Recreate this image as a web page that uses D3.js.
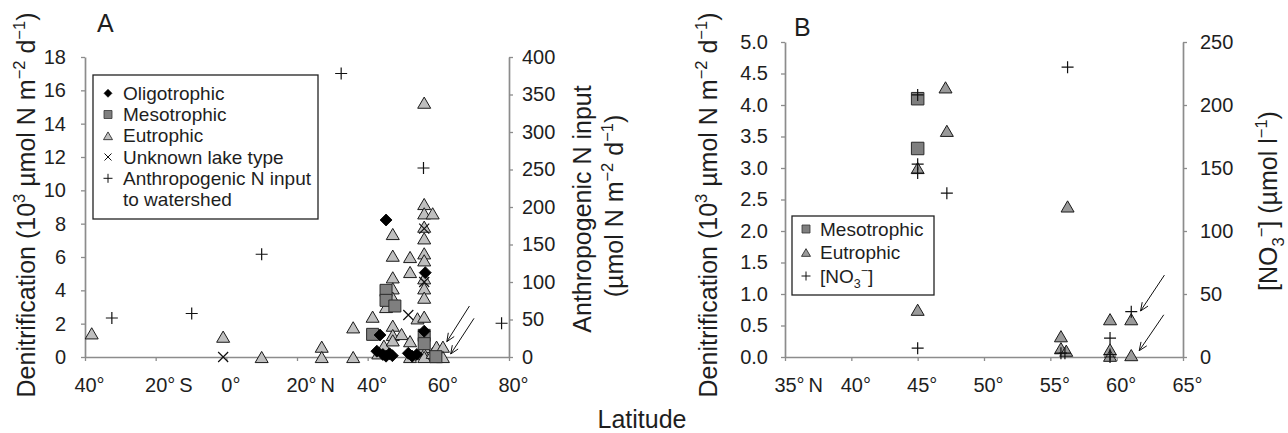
<!DOCTYPE html>
<html><head><meta charset="utf-8">
<script src="https://cdn.jsdelivr.net/npm/d3@7"></script>
<style>
body{margin:0;background:#fff;}
svg{display:block;}
</style></head><body>
<svg id="c" width="1288" height="433"></svg>
<script>
// ---------- Panel A data ----------
const oligoLatA = [45.2, 56.3, 43.5, 56.0, 42.6, 44.3, 45.2, 46.2, 47.0, 51.5, 53.9, 52.6];
const oligoValA = [8.22, 5.06, 1.32, 1.55, 0.35, 0.15, 0.05, 0.2, 0.08, 0.22, 0.15, 0.05];
const mesoLatA = [41.4, 45.2, 45.2, 47.7, 56.0, 56.0, 59.3];
const mesoValA = [1.36, 4.0, 3.4, 3.06, 1.3, 0.8, 0.02];
const eutroLatA = [-38.1, -0.9, 10.0, 27.0, 27.0, 35.9, 35.9, 41.4, 43.0, 44.6, 45.2,
  47.1, 47.1, 47.1, 47.1, 47.1, 47.1, 47.1, 47.1, 49.6, 52.0, 52.0, 52.0, 52.0, 54.1,
  56.0, 56.0, 56.0, 56.0, 56.0, 56.0, 56.0, 56.0, 56.0, 56.0, 56.0, 56.0, 56.0, 56.0,
  58.4, 58.4, 59.5, 59.5, 61.3, 61.3];
const eutroValA = [1.42, 1.22, 0, 0.62, 0, 1.78, 0, 2.42, 0.22, 0.68, 3.0,
  7.38, 6.08, 4.78, 4.12, 3.56, 1.88, 1.32, 1.0, 1.38, 6.0, 5.1, 0.95, 0, 2.32,
  15.26, 9.18, 8.62, 7.82, 7.12, 6.22, 5.8, 4.72, 4.12, 3.56, 2.42, 0.6, 0.2, 0,
  8.62, 0.25, 0.62, 0, 0.62, 0];
const unknownLatA = [-0.9, 51.5, 56.0, 56.0];
const unknownValA = [0, 2.52, 7.7, 4.5];
const anthroLatA = [-32.4, -9.8, 10.0, 32.5, 55.8, 77.9];
const anthroValA = [52, 58, 137, 378, 252, 45];
const xTicksA = [-40, -20, 0, 20, 40, 60, 80];
const xTickLabelsA = ["40°", "20°\u2009S", "0°", "20°\u2009N", "40°", "60°", "80°"];
const yTicksA = [0, 2, 4, 6, 8, 10, 12, 14, 16, 18];
const y2TicksA = [0, 50, 100, 150, 200, 250, 300, 350, 400];
const arrowsA = [[68.8, 3.06, 62.4, 0.92], [70.1, 2.32, 63.5, 0.18]];

// ---------- Panel B data ----------
const mesoLatB = [45, 45];
const mesoValB = [4.1, 3.31];
const eutroLatB = [47.1, 47.2, 45, 45, 56.3, 55.8, 55.8, 56.2, 59.5, 59.5, 59.5, 61.1, 61.1];
const eutroValB = [4.28, 3.59, 3.0, 0.75, 2.39, 0.33, 0.14, 0.1, 0.6, 0.12, 0.02, 0.6, 0.03];
const no3LatB = [45, 45, 45, 47.2, 45, 56.3, 55.8, 56.1, 59.5, 59.5, 59.5, 61.1];
const no3ValB = [208, 153, 146, 130, 7, 230, 3, 3, 15, 2, 0, 36];
const xTicksB = [35, 40, 45, 50, 55, 60, 65];
const xTickLabelsB = ["35°\u2009N", "40°", "45°", "50°", "55°", "60°", "65°"];
const yTicksB = [0, 0.5, 1, 1.5, 2, 2.5, 3, 3.5, 4, 4.5, 5];
const y2TicksB = [0, 50, 100, 150, 200, 250];
const arrowsB = [[63.6, 1.30, 61.8, 0.73], [63.55, 0.67, 61.7, 0.1]];

// ---------- drawing ----------
const FONT = '"Liberation Sans", Arial, Helvetica, sans-serif';
const TXT = "#1e1e1e", AXC = "#8c8c8c";
const svg = d3.select("#c").attr("font-family", FONT);
svg.append("rect").attr("width", 1288).attr("height", 433).attr("fill", "#fff");

const typeTri = {draw(c, s) { const r = s / 2, h = s * 0.86 / 2; c.moveTo(0, -h); c.lineTo(r, h); c.lineTo(-r, h); c.closePath(); }};
const typeSq = {draw(c, s) { const r = s / 2; c.rect(-r, -r, s, s); }};
const typeDia = {draw(c, s) { const r = s / 2; c.moveTo(0, -r); c.lineTo(r, 0); c.lineTo(0, r); c.lineTo(-r, 0); c.closePath(); }};
const typePlus = {draw(c, s) { const r = s / 2; c.moveTo(-r, 0); c.lineTo(r, 0); c.moveTo(0, -r); c.lineTo(0, r); }};
const typeX = {draw(c, s) { const r = s / 2; c.moveTo(-r, -r); c.lineTo(r, r); c.moveTo(r, -r); c.lineTo(-r, r); }};

function pts(g, lats, vals, x, y, type, size, fill, stroke, sw) {
  g.append("g").selectAll("path").data(d3.zip(lats, vals)).join("path")
    .attr("transform", d => `translate(${x(d[0])},${y(d[1])})`)
    .attr("d", d3.symbol().type(type).size(size))
    .attr("fill", fill).attr("stroke", stroke).attr("stroke-width", sw);
}
function sym(g, cx, cy, type, size, fill, stroke, sw) {
  g.append("path").attr("transform", `translate(${cx},${cy})`)
    .attr("d", d3.symbol().type(type).size(size)())
    .attr("fill", fill).attr("stroke", stroke).attr("stroke-width", sw);
}
function rich(t, parts, fs) {
  let cur = 0;
  parts.forEach(([s, k]) => {
    const target = k === "sup" ? -0.42 * fs : k === "sub" ? 0.28 * fs : 0;
    t.append("tspan").attr("dy", target - cur).attr("font-size", k === "n" ? fs : fs * 0.66).text(s);
    cur = target;
  });
}
function styleAxis(g) {
  g.select(".domain").attr("stroke", AXC).attr("stroke-width", 1.7);
  g.selectAll(".tick line").attr("stroke", AXC).attr("stroke-width", 1.3);
  g.selectAll(".tick text").attr("fill", TXT).attr("font-size", 20).attr("font-family", FONT);
}
function xAxis(g, x, y0, ticks, labels) {
  const ax = g.append("g").attr("transform", `translate(0,${y0})`)
    .call(d3.axisBottom(x).tickValues(ticks).tickFormat((d, i) => labels[i]).tickSize(4).tickSizeOuter(0).tickPadding(17));
  styleAxis(ax);
  ax.selectAll(".tick text").each(function (d, i) {
    const lab = labels[i];
    const m = lab.match(/^\d+/);
    const n = m ? m[0].length : lab.length;
    d3.select(this).attr("text-anchor", "start");
    const w = this.getSubStringLength(0, n);
    d3.select(this).attr("x", -w / 2);
  });
}
function arrow(g, x, y, a) {
  const x1 = x(a[0]), y1 = y(a[1]), x2 = x(a[2]), y2 = y(a[3]);
  const ang = Math.atan2(y1 - y2, x1 - x2), L = 9, da = 0.4;
  const p = d3.path();
  p.moveTo(x1, y1); p.lineTo(x2, y2);
  p.moveTo(x2 + L * Math.cos(ang + da), y2 + L * Math.sin(ang + da)); p.lineTo(x2, y2);
  p.lineTo(x2 + L * Math.cos(ang - da), y2 + L * Math.sin(ang - da));
  g.append("path").attr("d", p.toString()).attr("fill", "none").attr("stroke", "#111").attr("stroke-width", 1);
}
function rotTitle(g, cx, cy, parts, fs) {
  const t = g.append("text").attr("transform", `translate(${cx + 0.36 * fs},${cy}) rotate(-90)`)
    .attr("text-anchor", "middle").attr("fill", TXT).attr("font-size", fs);
  rich(t, parts, fs);
}
const denitParts = [["Denitrification (10", "n"], ["3", "sup"], [" µmol N m", "n"], ["−2", "sup"], [" d", "n"], ["−1", "sup"], [")", "n"]];

// ===== Panel A =====
const xA = d3.scaleLinear().domain([-40, 80]).range([85, 509]);
const yA = d3.scaleLinear().domain([0, 18]).range([357, 57]);
const y2A = d3.scaleLinear().domain([0, 400]).range([357, 57]);
const gA = svg.append("g");
styleAxis(gA.append("g").attr("transform", "translate(85,0)")
  .call(d3.axisLeft(yA).tickValues(yTicksA).tickSize(4).tickSizeOuter(0).tickPadding(15)));
styleAxis(gA.append("g").attr("transform", "translate(509,0)")
  .call(d3.axisRight(y2A).tickValues(y2TicksA).tickSize(4).tickSizeOuter(0).tickPadding(9)));
xAxis(gA, xA, 357, xTicksA, xTickLabelsA);

pts(gA, eutroLatA, eutroValA, xA, yA, typeTri, 13, "#bfbfbf", "#1a1a1a", 1);
pts(gA, mesoLatA, mesoValA, xA, yA, typeSq, 12, "#7f7f7f", "#2a2a2a", 1);
pts(gA, oligoLatA, oligoValA, xA, yA, typeDia, 12, "#000", "#000", 0.8);
pts(gA, unknownLatA, unknownValA, xA, y => yA(y), typeX, 10, "none", "#111", 1.2);
pts(gA, anthroLatA, anthroValA, xA, y2A, typePlus, 12, "none", "#111", 1.2);
arrowsA.forEach(a => arrow(gA, xA, yA, a));

// legend A
gA.append("rect").attr("x", 93).attr("y", 75).attr("width", 225).attr("height", 144)
  .attr("fill", "#fff").attr("stroke", "#222").attr("stroke-width", 1.3);
const legA = [[typeDia, 8, "#000", "#000", 0.6, "Oligotrophic"], [typeSq, 8, "#7f7f7f", "#333", 0.8, "Mesotrophic"],
  [typeTri, 9, "#bfbfbf", "#1a1a1a", 0.8, "Eutrophic"], [typeX, 7, "none", "#111", 1, "Unknown lake type"],
  [typePlus, 9, "none", "#111", 1, "Anthropogenic N input"]];
const legAy = [93.3, 114.5, 135.8, 157, 178.3];
legA.forEach((e, i) => {
  sym(gA, 108, legAy[i], e[0], e[1], e[2], e[3], e[4]);
  gA.append("text").attr("x", 123).attr("y", legAy[i]).attr("dy", "0.35em").attr("font-size", 19).attr("fill", TXT).text(e[5]);
});
gA.append("text").attr("x", 123).attr("y", 199.6).attr("dy", "0.35em").attr("font-size", 19).attr("fill", TXT).text("to watershed");

gA.append("text").attr("x", 97).attr("y", 32).attr("font-size", 25).attr("fill", TXT).text("A");
rotTitle(gA, 26, 205, denitParts, 25);
rotTitle(gA, 582, 209, [["Anthropogenic N input", "n"]], 25);
rotTitle(gA, 614, 206, [["(µmol N m", "n"], ["−2", "sup"], [" d", "n"], ["−1", "sup"], [")", "n"]], 25);

// ===== Panel B =====
const xB = d3.scaleLinear().domain([35, 65]).range([785, 1183]);
const yB = d3.scaleLinear().domain([0, 5]).range([357, 42]);
const y2B = d3.scaleLinear().domain([0, 250]).range([357, 42]);
const gB = svg.append("g");
styleAxis(gB.append("g").attr("transform", "translate(785,0)")
  .call(d3.axisLeft(yB).tickValues(yTicksB).tickFormat(d3.format(".1f")).tickSize(4).tickSizeOuter(0).tickPadding(13)));
styleAxis(gB.append("g").attr("transform", "translate(1183,0)")
  .call(d3.axisRight(y2B).tickValues(y2TicksB).tickSize(4).tickSizeOuter(0).tickPadding(13)));
xAxis(gB, xB, 357, xTicksB, xTickLabelsB);

pts(gB, eutroLatB, eutroValB, xB, yB, typeTri, 13, "#9a9a9a", "#1a1a1a", 1);
pts(gB, mesoLatB, mesoValB, xB, yB, typeSq, 12.5, "#7f7f7f", "#2a2a2a", 1);
pts(gB, no3LatB, no3ValB, xB, y2B, typePlus, 12, "none", "#111", 1.2);
arrowsB.forEach(a => arrow(gB, xB, yB, a));

gB.append("rect").attr("x", 792).attr("y", 216).attr("width", 142).attr("height", 79)
  .attr("fill", "#fff").attr("stroke", "#222").attr("stroke-width", 1.3);
const legBy = [229, 252.5, 276];
sym(gB, 806, legBy[0], typeSq, 8, "#7f7f7f", "#333", 0.8);
gB.append("text").attr("x", 820).attr("y", legBy[0]).attr("dy", "0.35em").attr("font-size", 19).attr("fill", TXT).text("Mesotrophic");
sym(gB, 806, legBy[1], typeTri, 9, "#9a9a9a", "#1a1a1a", 0.8);
gB.append("text").attr("x", 820).attr("y", legBy[1]).attr("dy", "0.35em").attr("font-size", 19).attr("fill", TXT).text("Eutrophic");
sym(gB, 806, legBy[2], typePlus, 9, "none", "#111", 1);
const tNo3 = gB.append("text").attr("x", 820).attr("y", legBy[2] + 6.5).attr("font-size", 19).attr("fill", TXT);
rich(tNo3, [["[NO", "n"], ["3", "sub"], ["−", "sup"], ["]", "n"]], 19);

gB.append("text").attr("x", 794).attr("y", 36).attr("font-size", 25).attr("fill", TXT).text("B");
rotTitle(gB, 708, 205, denitParts, 25);
rotTitle(gB, 1268, 201, [["[NO", "n"], ["3", "sub"], ["−", "sup"], ["] (µmol l", "n"], ["−1", "sup"], [")", "n"]], 25);

// shared x title
svg.append("text").attr("x", 642).attr("y", 428).attr("text-anchor", "middle")
  .attr("font-size", 25).attr("fill", TXT).text("Latitude");
</script>
</body></html>
